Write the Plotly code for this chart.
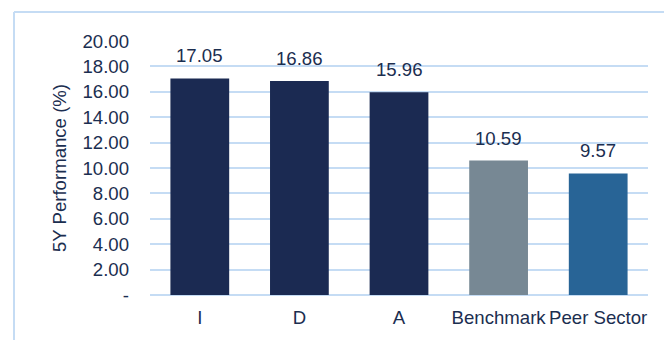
import plotly.graph_objects as go

categories = ["I", "D", "A", "Benchmark", "Peer Sector"]
values = [17.05, 16.86, 15.96, 10.59, 9.57]
labels = ["17.05", "16.86", "15.96", "10.59", "9.57"]
bar_colors = ["#1B2A52", "#1B2A52", "#1B2A52", "#778894", "#286496"]
y_tickvals = [0, 2, 4, 6, 8, 10, 12, 14, 16, 18, 20]
y_ticktext = ["-", "2.00", "4.00", "6.00", "8.00", "10.00", "12.00", "14.00", "16.00", "18.00", "20.00"]

W, H = 664, 340
ML, MR, MT, MB = 150, 16, 40.7, 43.3
TXT = "#1B2E50"
GRID = "#C5DCF4"
FONT = "Liberation Sans, Arial, sans-serif"
FS = 18.6

fig = go.Figure()
fig.add_trace(go.Bar(x=categories, y=values, marker=dict(color=bar_colors, line=dict(width=0)),
                     hoverinfo="skip"))

for c, v, t in zip(categories, values, labels):
    fig.add_annotation(x=c, y=v, text=t, showarrow=False, yanchor="bottom", yshift=10,
                       font=dict(family=FONT, size=FS, color=TXT))

pw = W - ML - MR
ph = H - MT - MB
x0 = (14 - ML) / pw
x1 = (W + 5 - ML) / pw
ytop = (H - MB - 11.5) / ph
ybot = (H - MB - H - 5) / ph
fig.add_shape(type="line", xref="paper", yref="paper", x0=x0, x1=x0, y0=ybot, y1=ytop,
              line=dict(color=GRID, width=2))
fig.add_shape(type="line", xref="paper", yref="paper", x0=x0, x1=x1, y0=ytop, y1=ytop,
              line=dict(color=GRID, width=2))

fig.update_layout(
    width=W, height=H,
    margin=dict(l=ML, r=MR, t=MT, b=MB, pad=0),
    paper_bgcolor="white", plot_bgcolor="white",
    bargap=0.41,
    showlegend=False,
    font=dict(family=FONT, size=FS, color=TXT),
    xaxis=dict(showgrid=False, showline=False, zeroline=False, ticks="",
               ticklabelstandoff=9, tickfont=dict(family=FONT, size=FS, color=TXT)),
    yaxis=dict(range=[0, 20], tickvals=y_tickvals, ticktext=y_ticktext,
               showgrid=True, gridcolor=GRID, gridwidth=2,
               zeroline=True, zerolinecolor=GRID, zerolinewidth=2,
               showline=False, ticks="", ticklabelstandoff=20,
               tickfont=dict(family=FONT, size=FS, color=TXT),
               title=dict(text="5Y Performance (%)", standoff=10,
                          font=dict(family=FONT, size=FS, color=TXT))),
)

fig.write_html("out.html")
